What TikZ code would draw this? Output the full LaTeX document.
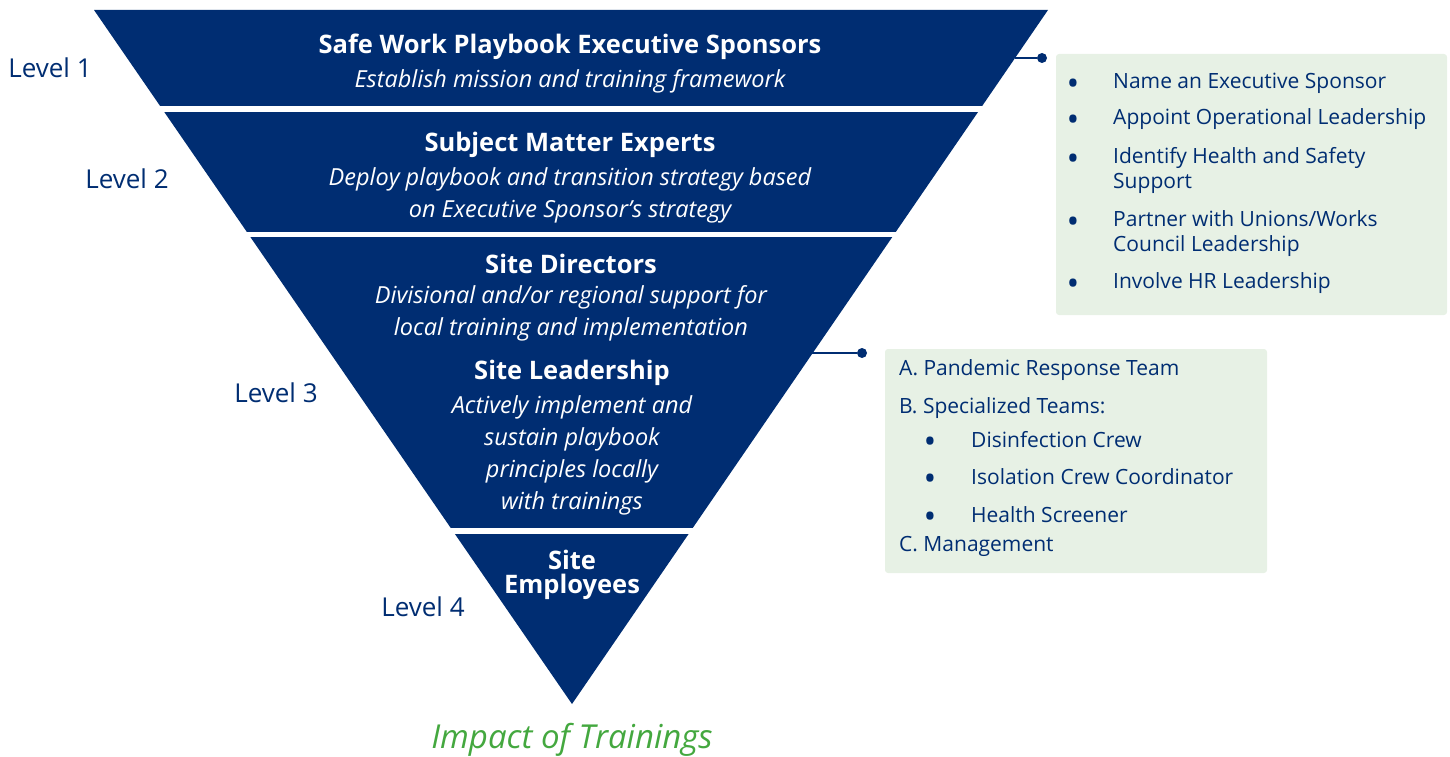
\documentclass[tikz,border=0pt]{standalone}
\usepackage{fontspec}
\setmainfont{Open Sans}
\definecolor{navy}{HTML}{002D72}
\definecolor{mint}{HTML}{E7F1E5}
\definecolor{leaf}{HTML}{44A83F}
\begin{document}
\begin{tikzpicture}
  [x=1pt,y=-1pt,
   title/.style={text=white,font=\fontsize{25.5}{24}\selectfont\bfseries,align=center},
   sub/.style={text=white,font=\fontsize{23.5}{32}\selectfont\itshape,align=center},
   level/.style={text=navy,font=\fontsize{26}{28}\selectfont},
   item/.style={text=navy,font=\fontsize{21}{25}\selectfont,anchor=mid west,inner sep=0pt},
   bullet/.style={text=navy,font=\fontsize{34}{34}\selectfont,inner sep=0pt,yshift=-5pt},
   dot/.style={circle,fill=navy,inner sep=0pt,minimum size=10pt},
   box/.style={fill=mint,rounded corners=3pt}]
  \useasboundingbox (0,0) rectangle (1450,757);
  % inverted pyramid
  \fill[navy] (94,10) -- (1048,10) -- (572,704) -- cycle;
  \fill[white] (80,106) rectangle (1060,112);
  \fill[white] (80,232) rectangle (1060,237);
  \fill[white] (80,528) rectangle (1060,534);
  % band texts
  \node[title] (t1) at (570,47) {Safe Work Playbook Executive Sponsors};
  \node[sub] (s1) at (570,81) {Establish mission and training framework};
  \node[title] (t2) at (570,145) {Subject Matter Experts};
  \node[sub] (s2) at (570,195) {Deploy playbook and transition strategy based\\on Executive Sponsor’s strategy};
  \node[title] (t3) at (571,264) {Site Directors};
  \node[sub] (s3) at (571,313) {Divisional and/or regional support for\\local training and implementation};
  \node[title] (t4) at (572,373) {Site Leadership};
  \node[sub] (s4) at (572,455) {Actively implement and\\sustain playbook\\principles locally\\with trainings};
  \node[title] (t5) at (572,575) {Site\\Employees};
  % levels
  \node[level] (l1) at (50,68) {Level 1};
  \node[level] (l2) at (127,179) {Level 2};
  \node[level] (l3) at (276,393) {Level 3};
  \node[level] (l4) at (423,607) {Level 4};
  % connectors
  \coordinate (e1) at (1015,58);
  \node[dot] (d1) at (1042,58) {};
  \draw[navy,line width=2pt] (e1) -- (d1);
  \coordinate (e2) at (812,353);
  \node[dot] (d2) at (862,353) {};
  \draw[navy,line width=2pt] (e2) -- (d2);
  % leadership box
  \fill[box] (1056,54) rectangle (1447,315);
  \foreach \y [count=\i] in {82,118,157,220,282}
    \node[bullet] (ba\i) at (1073,\y) {•};
  \node[item] (a1) at (1113,86) {Name an Executive Sponsor};
  \node[item] (a2) at (1113,122) {Appoint Operational Leadership};
  \node[item] (a3) at (1113,161) {Identify Health and Safety};
  \node[item] (a3b) at (1113,186) {Support};
  \node[item] (a4) at (1113,224) {Partner with Unions/Works};
  \node[item] (a4b) at (1113,249) {Council Leadership};
  \node[item] (a5) at (1113,286) {Involve HR Leadership};
  % teams box
  \fill[box] (885,349) rectangle (1267,573);
  \node[item] (c1) at (899,373) {A. Pandemic Response Team};
  \node[item] (c2) at (899,411) {B. Specialized Teams:};
  \foreach \y [count=\i] in {440,477,515}
    \node[bullet] (bc\i) at (930,\y) {•};
  \node[item] (c3) at (971,445) {Disinfection Crew};
  \node[item] (c4) at (971,482) {Isolation Crew Coordinator};
  \node[item] (c5) at (971,520) {Health Screener};
  \node[item] (c6) at (899,549) {C. Management};
  % caption
  \node[text=leaf,font=\fontsize{33}{35}\selectfont\itshape] (cap) at (572,740) {Impact of Trainings};
\end{tikzpicture}
\end{document}
